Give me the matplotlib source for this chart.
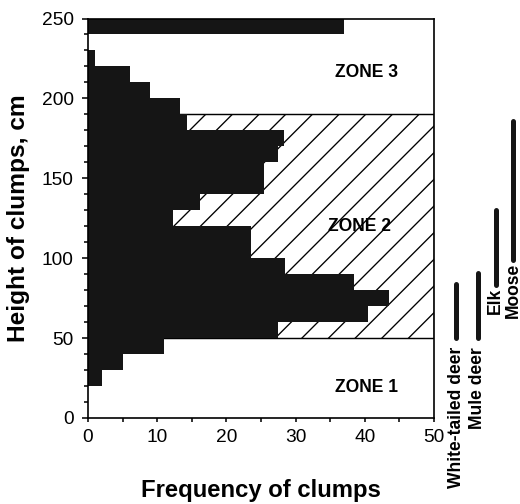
import matplotlib
matplotlib.use("Agg")
import matplotlib.pyplot as plt
import numpy as np
from matplotlib.ticker import MultipleLocator

plt.rcParams['font.family'] = ['Liberation Sans', 'DejaVu Sans']
plt.rcParams['hatch.linewidth'] = 1.2

# Data: 10-cm height classes (lower edge) and frequency of clumps
bin_bottoms = [20, 30, 40, 50, 60, 70, 80, 90, 100, 110, 120, 130, 140, 150,
               160, 170, 180, 190, 200, 210, 220, 230, 240]
frequencies = [2, 5, 11, 27.5, 40.4, 43.5, 38.4, 28.5, 23.5, 23.5, 12.3, 16.2,
               25.4, 25.4, 27.4, 28.3, 14.3, 13.3, 9, 6, 1, 0, 37]

# Zones (height limits, cm)
zone_names = ["ZONE 1", "ZONE 2", "ZONE 3"]
zone2_low, zone2_high = 50, 190

# Browsing height ranges of species (cm)
species = ["White-tailed deer", "Mule deer", "Elk", "Moose"]
species_low = [50, 50, 83, 99]
species_high = [84, 91, 130, 186]

DPI = 80
fig = plt.figure(figsize=(520/DPI, 504/DPI), dpi=DPI)
ax = fig.add_axes([88/520, 1-418/504, 346/520, 399.5/504])

# Zone 2 hatched band
ax.axhspan(zone2_low, zone2_high, facecolor='white', edgecolor='black',
           hatch='/', linewidth=1.3, zorder=1)

ax.barh(bin_bottoms, frequencies, height=10, align='edge', color='#151515',
        linewidth=0, zorder=2)

ax.set_xlim(0, 50)
ax.set_ylim(0, 250)
ax.xaxis.set_major_locator(MultipleLocator(10))
ax.xaxis.set_minor_locator(MultipleLocator(5))
ax.yaxis.set_major_locator(MultipleLocator(50))
ax.yaxis.set_minor_locator(MultipleLocator(10))
ax.tick_params(which='both', direction='out', labelsize=17.25, width=1.4)
ax.tick_params(axis='y', which='major', length=5, pad=8)
ax.tick_params(axis='y', which='minor', length=4)
ax.tick_params(axis='x', which='major', length=3.5, pad=6)
ax.tick_params(axis='x', which='minor', length=3.5)
for s in ax.spines.values():
    s.set_linewidth(1.5)
    s.set_zorder(3)

ax.set_xlabel("Frequency of clumps", fontsize=21.5, fontweight='bold')
ax.set_ylabel("Height of clumps, cm", fontsize=22, fontweight='bold')
ax.xaxis.set_label_coords(0.5, -0.152)
ax.yaxis.set_label_coords(-0.168, 0.5)

zone_pos = [(40.2, 18.8), (39.3, 120), (40.2, 216.5)]
for name, (zx, zy) in zip(zone_names, zone_pos):
    ax.text(zx, zy, name, ha='center', va='center', fontsize=15.75,
            fontweight='bold', zorder=4)

# Species browsing ranges, outside the plot on the right
sp_x = [53.2, 56.3, 58.9, 61.4]
label_top = [44.5, 44.5, 81.5, 97.0]
for name, lo, hi, x, lt in zip(species, species_low, species_high, sp_x, label_top):
    ax.plot([x, x], [lo, hi], color='#151515', lw=4.5, solid_capstyle='round',
            clip_on=False, zorder=4)
    ax.text(x, lt, name, rotation=90, ha='center', va='top', fontsize=15.75,
            fontweight='bold', clip_on=False)

fig.savefig("out.png", dpi=DPI)
